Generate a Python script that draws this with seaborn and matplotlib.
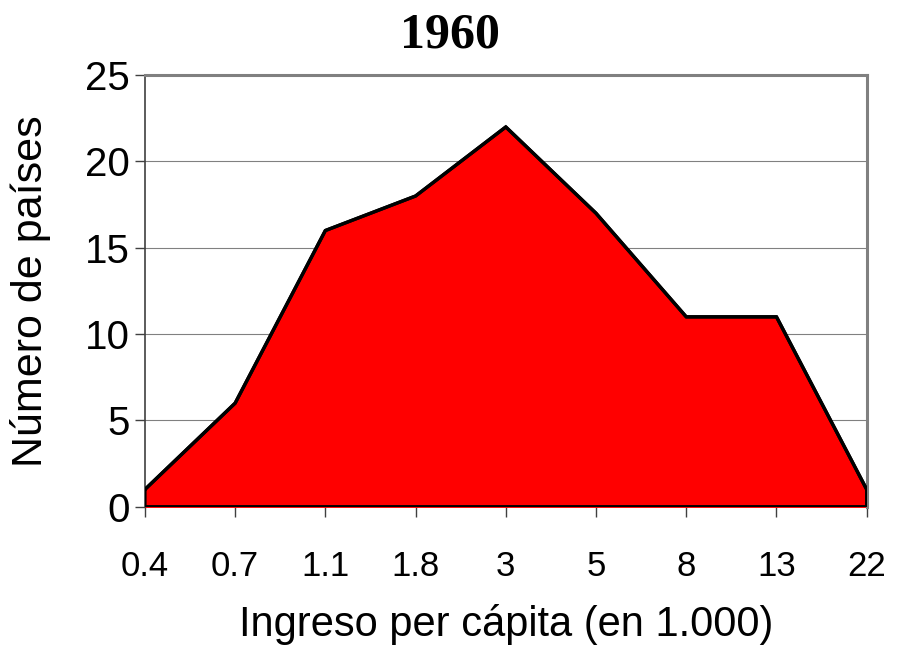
import matplotlib
matplotlib.use("Agg")
import matplotlib.pyplot as plt
import seaborn as sns
import numpy as np
import pandas as pd

# datos
ingreso = ["0.4", "0.7", "1.1", "1.8", "3", "5", "8", "13", "22"]
paises = [1, 6, 16, 18, 22, 17, 11, 11, 1]

df = pd.DataFrame({"pos": np.arange(len(ingreso)), "ingreso": ingreso, "paises": paises})

sns.set_style("white")
plt.rcParams["font.family"] = ["Liberation Sans", "DejaVu Sans"]
plt.rcParams["text.color"] = "black"
plt.rcParams["axes.labelcolor"] = "black"
plt.rcParams["xtick.color"] = "black"
plt.rcParams["ytick.color"] = "black"

fig = plt.figure(figsize=(9, 6.48), dpi=100)
ax = fig.add_axes([0.161, 0.218, 0.802, 0.666])

# relleno rojo con contorno negro
ax.fill_between(df["pos"], 0, df["paises"], color="#ff0000", zorder=2)
poly_x = list(df["pos"]) + [df["pos"].iloc[-1], df["pos"].iloc[0], df["pos"].iloc[0]]
poly_y = list(df["paises"]) + [0, 0, df["paises"].iloc[0]]
ax.plot(poly_x, poly_y, color="black", lw=2.4, zorder=3, solid_joinstyle="miter")
sns.lineplot(data=df, x="pos", y="paises", color="black", lw=2.4, ax=ax, zorder=4)

ax.set_xlim(0, len(ingreso) - 1)
ax.set_ylim(0, 25)
ax.set_yticks([0, 5, 10, 15, 20, 25])
ax.set_xticks(df["pos"])
ax.set_xticklabels(ingreso)

ax.yaxis.grid(True, color="#808080", lw=0.8, zorder=0)
ax.set_axisbelow(True)

for side in ["top", "right"]:
    ax.spines[side].set_color("#808080")
    ax.spines[side].set_linewidth(2.2)
ax.spines["left"].set_color("#404040")
ax.spines["left"].set_linewidth(1.2)
ax.spines["bottom"].set_visible(False)

ax.tick_params(axis="y", direction="out", length=7, width=1, color="#404040",
               labelsize=29, labelcolor="black", pad=4, left=True)
ax.tick_params(axis="x", direction="out", length=7, width=1, color="#404040",
               labelsize=25, labelcolor="black", pad=24, bottom=True)

ax.set_xlabel("Ingreso per cápita (en 1.000)", fontsize=30, labelpad=15)
ax.set_ylabel("Número de países", fontsize=31, labelpad=24)
ax.set_title("1960", fontsize=36, fontweight="bold", family="Liberation Serif",
             x=0.422, pad=20)

fig.savefig("out.png", dpi=100)
